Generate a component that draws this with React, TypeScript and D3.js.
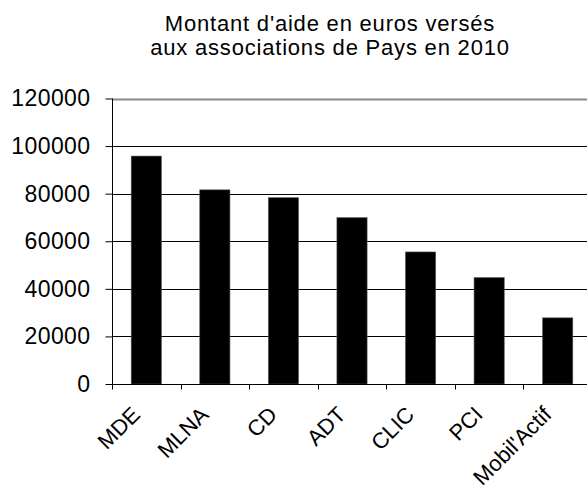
import React, { useEffect, useRef } from 'react';
import * as d3 from 'd3';

// Data
const categories = ['MDE', 'MLNA', 'CD', 'ADT', 'CLIC', 'PCI', "Mobil'Actif"];
const amounts = [95800, 81600, 78300, 69900, 55500, 44700, 27800];
const yTicks = [0, 20000, 40000, 60000, 80000, 100000, 120000];
const titleLines = ["Montant d'aide en euros versés", 'aux associations de Pays en 2010'];

const FONT = '"Liberation Sans", Arial, sans-serif';

export default function App() {
    const svgRef = useRef<SVGSVGElement>(null);

    useEffect(() => {
        const W = 587;
        const H = 486;
        const plot = { left: 112, right: 592, top: 98.5, bottom: 384 };

        const svg = d3.select(svgRef.current);
        svg.selectAll('*').remove();
        svg.attr('width', W).attr('height', H);

        svg.append('rect').attr('width', W).attr('height', H).attr('fill', '#fff');

        // Scales
        const x = d3.scaleBand<string>()
            .domain(categories)
            .range([plot.left, plot.right])
            .paddingInner(0.56)
            .paddingOuter(0.28);

        const y = d3.scaleLinear()
            .domain([0, 120000])
            .range([plot.bottom, plot.top]);

        // Title
        svg.append('g')
            .selectAll('text')
            .data(titleLines)
            .join('text')
            .attr('x', 330)
            .attr('y', (d, i) => 31 + i * 24)
            .attr('text-anchor', 'middle')
            .attr('font-family', FONT)
            .attr('font-size', 22)
            .attr('letter-spacing', 0.8)
            .attr('fill', '#000')
            .text(d => d);

        // Gridlines
        svg.append('g')
            .selectAll('line')
            .data(yTicks.filter(t => t > 0 && t < 120000))
            .join('line')
            .attr('x1', plot.left)
            .attr('x2', plot.right)
            .attr('y1', d => Math.round(y(d)) + 0.5)
            .attr('y2', d => Math.round(y(d)) + 0.5)
            .attr('stroke', '#000')
            .attr('stroke-width', 1);

        // Top border
        svg.append('line')
            .attr('x1', plot.left)
            .attr('x2', plot.right)
            .attr('y1', Math.round(y(120000)) + 0.5)
            .attr('y2', Math.round(y(120000)) + 0.5)
            .attr('stroke', '#888')
            .attr('stroke-width', 2);

        // Bars
        svg.append('g')
            .selectAll('rect')
            .data(amounts)
            .join('rect')
            .attr('x', (d, i) => x(categories[i]))
            .attr('y', d => y(d))
            .attr('width', x.bandwidth())
            .attr('height', d => plot.bottom - y(d))
            .attr('fill', '#000')
            .attr('stroke', '#555')
            .attr('stroke-width', 0.6);

        // Y axis
        const yAxis = svg.append('g')
            .attr('transform', `translate(${plot.left + 0.5},0)`)
            .call(d3.axisLeft(y).tickValues(yTicks).tickSize(7).tickPadding(15).tickFormat(d3.format('d')));
        yAxis.select('.domain').attr('stroke', '#000').attr('d', `M0,${plot.top}V${plot.bottom}`);
        yAxis.selectAll('.tick line').attr('stroke', '#000');
        yAxis.selectAll('.tick text')
            .attr('font-family', FONT)
            .attr('font-size', 23)
            .attr('letter-spacing', 0.4)
            .attr('fill', '#000');

        // X axis
        const step = x.step();
        const xAxis = svg.append('g').attr('transform', `translate(0,${plot.bottom + 0.5})`);
        xAxis.append('line')
            .attr('x1', plot.left)
            .attr('x2', plot.right)
            .attr('stroke', '#000');
        xAxis.selectAll('line.tk')
            .data(categories)
            .join('line')
            .attr('class', 'tk')
            .attr('x1', (d, i) => Math.round(plot.left + i * step) + 0.5)
            .attr('x2', (d, i) => Math.round(plot.left + i * step) + 0.5)
            .attr('y1', 0)
            .attr('y2', 5)
            .attr('stroke', '#000');
        svg.append('g')
            .selectAll('text')
            .data(categories)
            .join('text')
            .attr('transform', d => `translate(${(x(d) ?? 0) + x.bandwidth() / 2 - 5},${416}) rotate(-45)`)
            .attr('text-anchor', 'end')
            .attr('font-family', FONT)
            .attr('font-size', 22)
            .attr('fill', '#000')
            .text(d => d);
    }, []);

    return (
        <div style={{ position: 'absolute', left: 0, top: 0 }}>
            <svg ref={svgRef}></svg>
        </div>
    );
}
